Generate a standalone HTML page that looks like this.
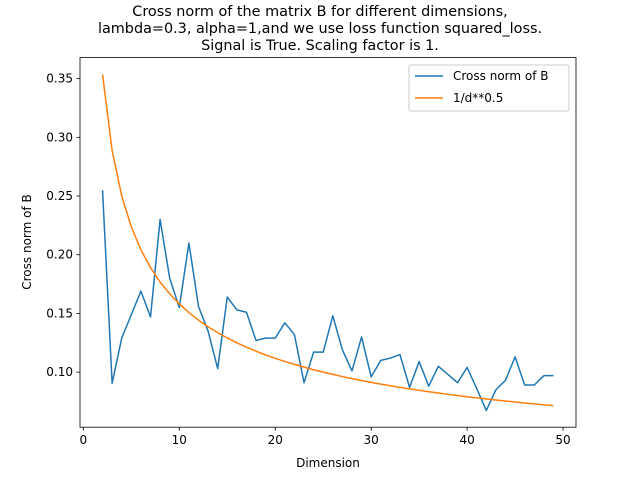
<!DOCTYPE html>
<html><head><meta charset="utf-8"><style>body{margin:0;background:#fff}svg{display:block;font-family:"DejaVu Sans","Liberation Sans",sans-serif}</style></head>
<body>
<svg id="chart" width="640" height="480" viewBox="0 0 640 480">
<text x="320" y="16" text-anchor="middle" font-size="14.4">Cross norm of the matrix B for different dimensions,</text>
<text x="320" y="33" text-anchor="middle" font-size="14.4">lambda=0.3, alpha=1,and we use loss function squared_loss.</text>
<text x="320" y="50" text-anchor="middle" font-size="14.4">Signal is True. Scaling factor is 1.</text>
<text x="328" y="467" text-anchor="middle" font-size="12">Dimension</text>
<text transform="translate(31,242) rotate(-90)" text-anchor="middle" font-size="12">Cross norm of B</text>
<g id="plot"></g>
<g>
<rect x="409" y="65" width="160" height="46" fill="#fff" stroke="#ccc" rx="2"/>
<line x1="415" y1="76" x2="443" y2="76" stroke="#1f77b4" stroke-width="1.5"/>
<text x="453" y="80" font-size="12">Cross norm of B</text>
<line x1="415" y1="98" x2="443" y2="98" stroke="#ff7f0e" stroke-width="1.5"/>
<text x="453" y="102" font-size="12">1/d**0.5</text>
</g>
</svg>
<script>
const dims=[];for(let d=2;d<=49;d++)dims.push(d);
const crossNorm=[0.255,0.0906,0.129,0.149,0.169,0.147,0.230,0.180,0.155,0.210,0.156,0.135,0.103,0.164,0.153,0.151,0.127,0.129,0.129,0.142,0.132,0.091,0.117,0.117,0.148,0.119,0.101,0.130,0.096,0.110,0.112,0.115,0.087,0.109,0.088,0.105,0.098,0.091,0.104,0.086,0.0674,0.085,0.093,0.113,0.089,0.089,0.097,0.097];
const xTicks=[0,10,20,30,40,50];
const yTicks=[0.10,0.15,0.20,0.25,0.30,0.35];
const L=80,R=576,T=57.6,B=427.2;
const xmin=-0.35,xmax=51.35,ymin=0.0531,ymax=0.3679;
const xs=v=>L+(v-xmin)/(xmax-xmin)*(R-L);
const ys=v=>B-(v-ymin)/(ymax-ymin)*(B-T);
const NS="http://www.w3.org/2000/svg";
const g=document.getElementById('plot');
function mk(t,a){const e=document.createElementNS(NS,t);for(const k in a)e.setAttribute(k,a[k]);g.appendChild(e);return e;}
xTicks.forEach(v=>{const x=xs(v);
const t=mk('line',{x1:x,y1:B,x2:x,y2:B+3.5,stroke:'#000','stroke-width':0.8});


const l=mk('text',{x:x,y:B+17,'text-anchor':'middle','font-size':12});l.textContent=v;

});
yTicks.forEach(v=>{const y=ys(v);
const t=mk('line',{x1:L-3.5,y1:y,x2:L,y2:y,stroke:'#000','stroke-width':0.8});


const l=mk('text',{x:L-7,y:y+4,'text-anchor':'end','font-size':12});l.textContent=v.toFixed(2);

});
const blue=mk('polyline',{points:dims.map((d,i)=>xs(d)+','+ys(crossNorm[i])).join(' '),fill:'none',stroke:'#1f77b4','stroke-width':1.5,'stroke-linejoin':'round'});


const orange=mk('polyline',{points:dims.map(d=>xs(d)+','+ys(1/Math.sqrt(d)/2)).join(' '),fill:'none',stroke:'#ff7f0e','stroke-width':1.5,'stroke-linejoin':'round'});


const fr=mk('rect',{x:L,y:T,width:R-L,height:B-T,fill:'none',stroke:'#000','stroke-width':0.8});


</script>
</body></html>
